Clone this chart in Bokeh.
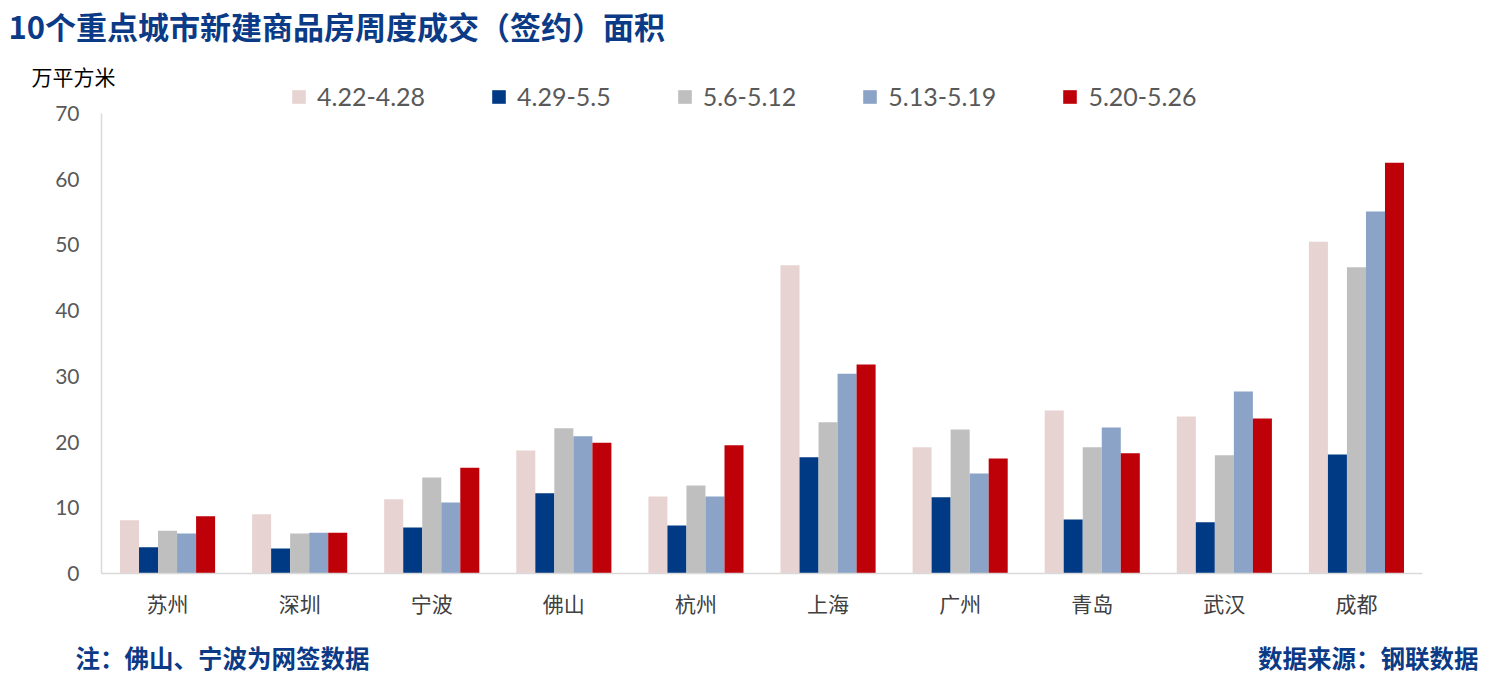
from bokeh.plotting import figure
from bokeh.models import (Range1d, FactorRange, ColumnDataSource, Legend, LegendItem,
                          Label, FixedTicker, Title)
from bokeh.transform import dodge
from bokeh.embed import file_html
from bokeh.resources import INLINE

cities = ["苏州", "深圳", "宁波", "佛山", "杭州", "上海", "广州", "青岛", "武汉", "成都"]
weeks = ["4.22-4.28", "4.29-5.5", "5.6-5.12", "5.13-5.19", "5.20-5.26"]
w1 = [8.1, 9.0, 11.3, 18.7, 11.7, 46.9, 19.2, 24.8, 23.9, 50.5]
w2 = [4.0, 3.8, 7.0, 12.2, 7.3, 17.7, 11.6, 8.2, 7.8, 18.1]
w3 = [6.5, 6.1, 14.6, 22.1, 13.4, 23.0, 21.9, 19.2, 18.0, 46.6]
w4 = [6.1, 6.2, 10.8, 20.9, 11.7, 30.4, 15.2, 22.2, 27.7, 55.1]
w5 = [8.7, 6.2, 16.1, 19.9, 19.5, 31.8, 17.5, 18.3, 23.6, 62.5]
colors = ["#E8D3D3", "#003A84", "#BFBFBF", "#8AA3C7", "#BE0009"]
yticks = [0, 10, 20, 30, 40, 50, 60, 70]

title_text = "10个重点城市新建商品房周度成交（签约）面积"
unit_text = "万平方米"
note_text = "注：佛山、宁波为网签数据"
source_text = "数据来源：钢联数据"

NAVY = "#0B3A86"
CJK = "Noto Sans CJK SC"


def blank(h):
    f = figure(width=1491, height=h, x_range=Range1d(0, 1), y_range=Range1d(0, 1),
               output_backend="svg", toolbar_location=None, x_axis_type=None,
               y_axis_type=None, min_border=0)
    f.title.visible = False
    f.outline_line_color = None
    f.grid.visible = False
    return f


# --- title band ---
top = blank(52)
top.add_layout(Label(x=8, y=27, x_units="screen", y_units="screen", text=title_text,
                     text_font=CJK, text_font_size="31px", text_font_style="bold",
                     text_color=NAVY, text_baseline="middle"))

# --- main chart ---
src = ColumnDataSource(dict(city=cities, w1=w1, w2=w2, w3=w3, w4=w4, w5=w5))
p = figure(width=1491, height=583, x_range=FactorRange(*cities, range_padding=0),
           y_range=Range1d(0, 75.02), output_backend="svg", toolbar_location=None,
           min_border_left=101, min_border_right=69, min_border_top=28, min_border_bottom=62)
p.title.visible = False
p.outline_line_color = None
p.grid.visible = False

bw = 0.144
items = []
for i, (key, col, name) in enumerate(zip(["w1", "w2", "w3", "w4", "w5"], colors, weeks)):
    r = p.vbar(x=dodge("city", (i - 2) * bw, range=p.x_range), top=key, width=bw,
               source=src, color=col, line_color=None)
    items.append(LegendItem(label=name, renderers=[r]))

for ax in (p.xaxis[0], p.yaxis[0]):
    ax.axis_line_color = "#D9D9D9"
    ax.axis_line_width = 1.5
    ax.major_tick_line_color = None
    ax.minor_tick_line_color = None

p.yaxis.bounds = (0, 70)
p.yaxis.ticker = FixedTicker(ticks=yticks)
p.yaxis.major_label_standoff = 16
p.yaxis.major_label_text_font = "Lato"
p.yaxis.major_label_text_font_size = "21px"
p.yaxis.major_label_text_color = "#595959"
p.xaxis.major_label_standoff = 8
p.xaxis.major_label_text_font = CJK
p.xaxis.major_label_text_font_size = "21px"
p.xaxis.major_label_text_color = "#404040"

legend = Legend(items=items, orientation="horizontal", location=(189, 462),
                padding=0, margin=0, spacing=65, glyph_width=17, glyph_height=17,
                label_standoff=10, label_text_font="Lato", label_text_font_size="25px",
                label_text_color="#595959", border_line_color=None, background_fill_alpha=0)
p.add_layout(legend)
p.add_layout(Title(text=unit_text, align="left", offset=-70, standoff=-20,
                   vertical_align="bottom", text_font=CJK, text_font_size="21px",
                   text_font_style="normal", text_color="#000000"), "above")

# --- footer band ---
foot = blank(45)
foot.add_layout(Label(x=75, y=23, x_units="screen", y_units="screen", text=note_text,
                      text_font=CJK, text_font_size="24.5px", text_font_style="bold",
                      text_color=NAVY, text_baseline="middle"))
foot.add_layout(Label(x=1478, y=23, x_units="screen", y_units="screen", text=source_text,
                      text_font=CJK, text_font_size="24.5px", text_font_style="bold",
                      text_color=NAVY, text_baseline="middle", text_align="right"))

open("out.html", "w").write(file_html([top, p, foot], INLINE))
